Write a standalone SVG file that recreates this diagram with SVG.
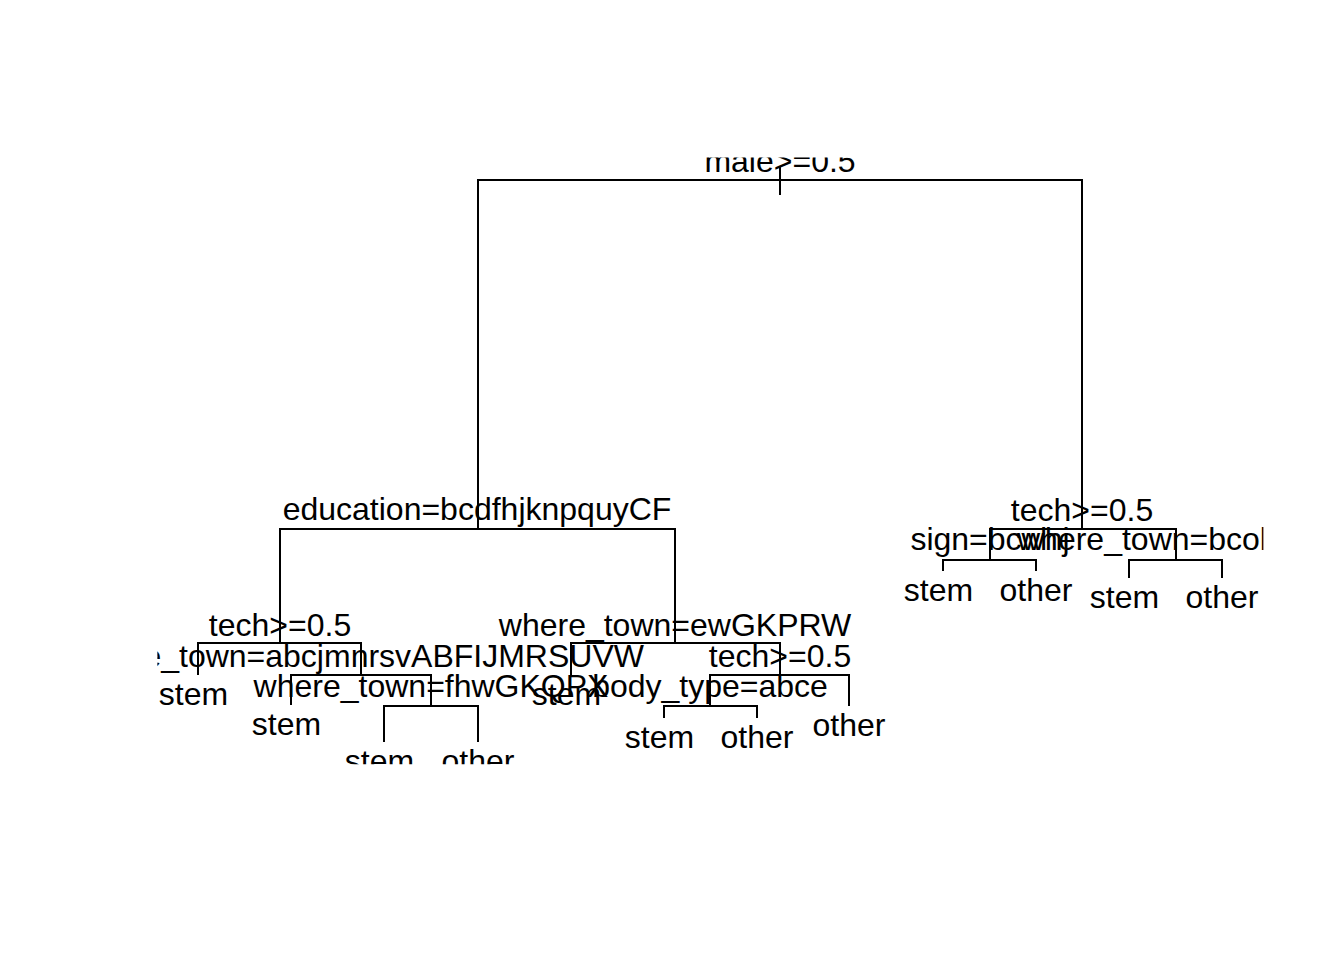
<svg xmlns="http://www.w3.org/2000/svg" width="1344" height="960" viewBox="0 0 1344 960">
<style>
text{font-family:"Liberation Sans",Arial,Helvetica,sans-serif;font-size:32px;fill:#000;text-anchor:middle}
.st{text-anchor:start}
#connectors path{stroke:#000;stroke-width:2;fill:none;stroke-linecap:butt}
</style>
<defs>
<clipPath id="plot"><rect x="157.4" y="157.4" width="1106" height="606.8"/></clipPath>
</defs>
<rect width="1344" height="960" fill="#fff"/>
<g clip-path="url(#plot)">
<g id="connectors">
<path d="M780 167V195"/>
<path d="M478 529V180H1082V529"/>
<path d="M280 643V529H675V643"/>
<path d="M198 675V643H361V675"/>
<path d="M291 705V675H431V706"/>
<path d="M384 742V706H478V742"/>
<path d="M571 675V643H780V675"/>
<path d="M710 706V675H849V706"/>
<path d="M664 718V706H757V718"/>
<path d="M990 560V529H1176V560"/>
<path d="M943 571V560H1036V571"/>
<path d="M1129 578V560H1222V578"/>
</g>
<g id="n1"><text x="780" y="172">male&gt;=0.5</text></g>
<g id="n2"><text x="477" y="520">education=bcdfhjknpquyCF</text></g>
<g id="n3"><text x="1082" y="521">tech&gt;=0.5</text></g>
<g id="n4"><text x="280" y="636">tech&gt;=0.5</text></g>
<g id="n5"><text x="675" y="636">where_town=ewGKPRW</text></g>
<g id="n6"><text x="990" y="550">sign=bcwhj</text></g>
<g id="n7"><text class="st" x="1017" y="550">where_town=bcol</text></g>
<g id="n8"><text x="193.5" y="705">stem</text></g>
<g id="n9"><text x="359" y="667">where_town=abcjmnrsvABFIJMRSUVW</text></g>
<g id="n10"><text x="566.5" y="705">stem</text></g>
<g id="n11"><text x="780" y="667">tech&gt;=0.5</text></g>
<g id="n12"><text x="938.5" y="601">stem</text></g>
<g id="n13"><text x="1036" y="601">other</text></g>
<g id="n14"><text x="1124.5" y="608">stem</text></g>
<g id="n15"><text x="1222" y="608">other</text></g>
<g id="n16"><text x="286.5" y="735">stem</text></g>
<g id="n17"><text x="431" y="697">where_town=fhwGKQPX</text></g>
<g id="n18"><text x="710" y="697">body_type=abce</text></g>
<g id="n19"><text x="849" y="736">other</text></g>
<g id="n20"><text x="379.5" y="772">stem</text></g>
<g id="n21"><text x="478" y="772">other</text></g>
<g id="n22"><text x="659.5" y="748">stem</text></g>
<g id="n23"><text x="757" y="748">other</text></g>
</g>
</svg>
